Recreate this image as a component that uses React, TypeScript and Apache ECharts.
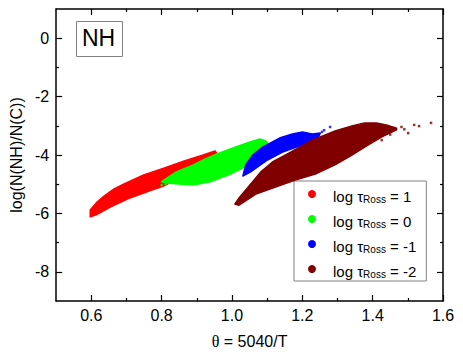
import React, { useEffect, useRef } from 'react';
import * as echarts from 'echarts';

// Tick values
const xMajor = [0.6, 0.8, 1.0, 1.2, 1.4, 1.6];
const xMinor = [0.7, 0.9, 1.1, 1.3, 1.5];
const yMajor = [-8, -6, -4, -2, 0];
const yMinor = [-7, -5, -3, -1];

// Series names (legend) and tau values
const tauValues = ['1', '0', '-1', '-2'];
const seriesNames = ['tau1', 'tau0', 'tauM1', 'tauM2'];
const seriesColors = ['#ff0000', '#00ff00', '#0000ff', '#800000'];

// Outlines of the point clouds: [theta, log(N(NH)/N(C))]
const redCloud = [
  [0.597, -5.88], [0.614, -5.64], [0.637, -5.40], [0.665, -5.16], [0.693, -4.99],
  [0.749, -4.68], [0.806, -4.45], [0.862, -4.21], [0.918, -4.00], [0.952, -3.86],
  [0.958, -3.97], [0.952, -4.05], [0.918, -4.45], [0.862, -4.72], [0.806, -5.06],
  [0.766, -5.23], [0.710, -5.47], [0.654, -5.78], [0.614, -6.05], [0.597, -6.12],
];
const greenCloud = [
  [0.806, -4.86], [0.842, -4.58], [0.890, -4.34], [0.918, -4.17], [0.955, -3.97],
  [1.003, -3.76], [1.051, -3.55], [1.079, -3.45], [1.096, -3.52], [1.107, -3.66],
  [1.101, -3.83], [1.073, -4.10], [1.051, -4.32], [0.994, -4.66], [0.938, -4.92],
  [0.890, -5.03], [0.848, -4.99], [0.814, -4.96], [0.800, -4.92],
];
const blueCloud = [
  [1.031, -4.72], [1.039, -4.34], [1.059, -4.00], [1.087, -3.73], [1.135, -3.42],
  [1.172, -3.28], [1.200, -3.21], [1.228, -3.28], [1.251, -3.25], [1.242, -3.49],
  [1.200, -3.66], [1.144, -3.90], [1.101, -4.17], [1.073, -4.41], [1.053, -4.58],
];
const darkRedCloud = [
  [1.008, -5.68], [1.020, -5.47], [1.051, -5.03], [1.082, -4.58], [1.115, -4.24],
  [1.163, -3.93], [1.228, -3.49], [1.293, -3.18], [1.341, -3.01], [1.377, -2.90],
  [1.411, -2.90], [1.439, -2.97], [1.468, -3.08], [1.468, -3.14], [1.426, -3.38],
  [1.383, -3.69], [1.341, -4.00], [1.293, -4.34], [1.237, -4.65], [1.180, -4.86],
  [1.124, -5.10], [1.068, -5.34], [1.020, -5.72],
];
const clouds = [redCloud, greenCloud, blueCloud, darkRedCloud];

// Isolated points outside the dense clouds
const greenStray = [[0.800, -5.03], [0.812, -5.00]];
const blueStray = [[1.256, -3.21], [1.279, -3.04], [1.262, -3.15]];
const darkRedStray = [
  [1.426, -3.49], [1.462, -3.08], [1.482, -3.04], [1.501, -3.25], [1.518, -2.97],
  [1.532, -3.01], [1.566, -2.90], [1.450, -3.30], [1.490, -3.12],
];
const strays = [[], greenStray, blueStray, darkRedStray];

const FONT = 'Liberation Sans, Arial, sans-serif';

function makeX(position: 'bottom' | 'top', minor: boolean, withLabels: boolean, extra: any = {}) {
  return {
    type: 'value',
    min: 0.5,
    max: 1.6,
    position,
    axisLine: { show: !minor, onZero: false, lineStyle: { color: '#000', width: 1.5 } },
    axisTick: {
      show: true, inside: true, length: minor ? 3 : 6,
      customValues: minor ? xMinor : xMajor,
      lineStyle: { color: '#000', width: 1.2 },
    },
    axisLabel: withLabels
      ? { show: true, customValues: xMajor, formatter: (v: number) => v.toFixed(1), fontSize: 16, color: '#000', fontFamily: FONT, margin: 6 }
      : { show: false },
    splitLine: { show: false },
    ...extra,
  };
}

function makeY(position: 'left' | 'right', minor: boolean, withLabels: boolean, extra: any = {}) {
  return {
    type: 'value',
    min: -9,
    max: 1,
    position,
    axisLine: { show: !minor, onZero: false, lineStyle: { color: '#000', width: 1.5 } },
    axisTick: {
      show: true, inside: true, length: minor ? 3 : 6,
      customValues: minor ? yMinor : yMajor,
      lineStyle: { color: '#000', width: 1.2 },
    },
    axisLabel: withLabels
      ? { show: true, customValues: yMajor, formatter: (v: number) => String(v), fontSize: 16, color: '#000', fontFamily: FONT, margin: 7 }
      : { show: false },
    splitLine: { show: false },
    ...extra,
  };
}

export default function App() {
  const ref = useRef<HTMLDivElement>(null);
  useEffect(() => {
    if (!ref.current) return;
    const chart = echarts.init(ref.current, undefined, { renderer: 'svg' });

    const cloudSeries = clouds.map((poly, i) => ({
      type: 'custom',
      name: seriesNames[i],
      xAxisIndex: 0,
      yAxisIndex: 0,
      itemStyle: { color: seriesColors[i] },
      data: [poly[0]],
      z: 2 + i,
      renderItem: (_params: any, api: any) => {
        const pts = poly.map((p) => api.coord(p));
        return {
          type: 'polygon',
          shape: { points: pts },
          style: { fill: seriesColors[i], stroke: seriesColors[i], lineWidth: 1.5, lineJoin: 'round' },
        };
      },
    }));

    const straySeries = strays.map((pts, i) => ({
      type: 'scatter',
      name: 'stray' + i,
      xAxisIndex: 0,
      yAxisIndex: 0,
      symbol: 'rect',
      symbolSize: 2.5,
      itemStyle: { color: seriesColors[i] },
      data: pts,
      z: 2 + i,
    }));

    chart.setOption({
      animation: false,
      backgroundColor: '#fff',
      grid: { left: 52, top: 9, right: 20, bottom: 57, containLabel: false },
      xAxis: [
        makeX('bottom', false, true, {
          name: '{t|θ} = 5040/T',
          nameLocation: 'middle',
          nameGap: 32,
          nameTextStyle: {
            fontSize: 16, color: '#000', fontFamily: FONT,
            rich: { t: { fontSize: 16, fontFamily: 'Liberation Serif, Times New Roman, serif', color: '#000' } },
          },
        }),
        makeX('bottom', true, false),
        makeX('top', false, false),
        makeX('top', true, false),
      ],
      yAxis: [
        makeY('left', false, true, {
          name: 'log(N(NH)/N(C))',
          nameLocation: 'middle',
          nameGap: 26,
          nameTextStyle: { fontSize: 16, color: '#000', fontFamily: FONT },
        }),
        makeY('left', true, false),
        makeY('right', false, false),
        makeY('right', true, false),
      ],
      legend: {
        orient: 'vertical',
        left: 294,
        top: 181,
        data: seriesNames.map((n) => ({ name: n, icon: 'circle' })),
        itemWidth: 32,
        itemHeight: 8,
        itemGap: 10,
        padding: [8, 10, 2, 14],
        borderColor: '#808080',
        borderWidth: 1,
        backgroundColor: '#fff',
        selectedMode: false,
        formatter: (name: string) => {
          const idx = seriesNames.indexOf(name);
          return `{m|log τ}{s|Ross}{m| = ${tauValues[idx]}}`;
        },
        textStyle: {
          fontSize: 15,
          color: '#000',
          fontFamily: FONT,
          rich: {
            m: { fontSize: 15, color: '#000', fontFamily: FONT, lineHeight: 20, verticalAlign: 'bottom' },
            s: { fontSize: 10, color: '#000', fontFamily: FONT, lineHeight: 6, verticalAlign: 'bottom' },
          },
        },
      },
      graphic: [
        {
          type: 'rect',
          left: 76,
          top: 21,
          shape: { width: 46, height: 35 },
          style: { fill: '#fff', stroke: '#808080', lineWidth: 1 },
          z: 10,
        },
        {
          type: 'text',
          left: 82,
          top: 26,
          style: { text: 'NH', fontSize: 23, fill: '#000', fontFamily: FONT },
          z: 11,
        },
      ],
      series: [...cloudSeries, ...straySeries],
    });
    return () => chart.dispose();
  }, []);
  return <div ref={ref} style={{ position: 'absolute', left: 0, top: 0, width: 463, height: 358, background: '#fff' }} />;
}
